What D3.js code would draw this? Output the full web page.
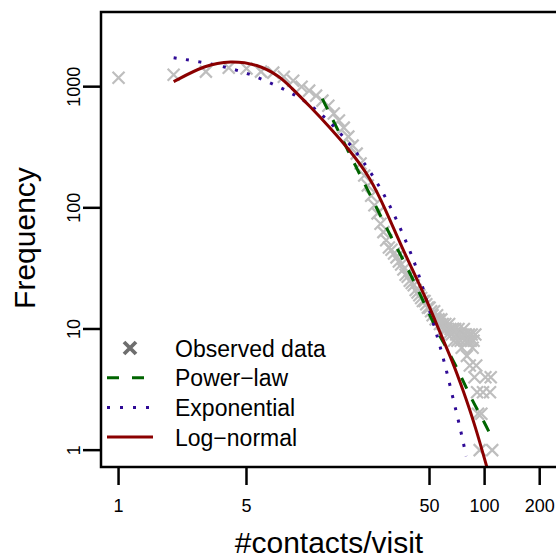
<!DOCTYPE html>
<html>
<head>
<meta charset="utf-8">
<script src="https://cdn.jsdelivr.net/npm/d3@7"></script>
<style>
  body { margin: 0; background: #fff; }
  svg { display: block; font-family: "Liberation Sans", Arial, sans-serif; }
</style>
</head>
<body>
<div id="chart"></div>
<script>
// observed frequencies (#contacts/visit -> count)
const obsX = [1, 2, 3, 4, 5, 6, 7, 8, 9, 10, 11, 12, 13, 14, 15, 16, 17, 18, 19, 20,
  21, 22, 23, 24, 25, 26, 27, 28, 29, 30, 31, 32, 33, 34, 35, 36, 37, 38, 39, 40,
  41, 42, 43, 44, 45, 46, 47, 48, 49, 50, 51, 52, 53, 54, 55, 56, 57, 58, 59, 60,
  61, 62, 63, 64, 65, 66, 67, 68, 69, 70, 71, 72, 73, 74, 75, 76, 77, 78, 79, 80,
  81, 82, 83, 84, 85, 86, 87, 88, 89, 90, 91, 92, 94, 96, 98, 101, 107, 108, 110];
const obsY = [1186, 1256, 1331, 1435, 1410, 1331, 1306, 1209, 1119, 1000, 927, 843, 767, 697, 600, 525, 459, 387, 326, 280,
  232, 185, 153, 126, 105, 90, 74, 63, 54, 47, 45, 42, 39, 36, 34, 31, 28, 27, 25, 24,
  23, 21, 20, 19, 18, 17, 17, 16, 15, 15, 14, 13, 14, 12, 13, 12, 11, 12, 11, 10,
  11, 10, 9, 11, 10, 9, 10, 8, 10, 9, 8, 10, 9, 8, 7, 9, 10, 8, 9, 6,
  8, 9, 5, 8, 9, 7, 8, 4, 9, 5, 3, 2, 1, 2, 3, 4, 3, 4, 1];

// fitted curves
const powerX = [12.97, 16.06, 19.9, 24.3, 30.1, 37.3, 46.1, 55.7, 63.1, 75.3, 85.3, 100.5, 111];
const powerY = [796, 418, 215, 119, 61.4, 33.5, 17.2, 9.2, 6.67, 3.92, 2.58, 1.67, 1.21];

const expX = [2.0, 2.77, 3.79, 5.18, 6.92, 9.24, 12.2, 17.1, 23.1, 29.4, 35.9, 43.3, 51.7, 59.3, 66.4, 74.3, 79.3];
const expY = [1734, 1607, 1462, 1279, 1059, 859, 646, 387, 215, 117, 60.3, 30.4, 12.0, 5.96, 2.89, 1.43, 0.89];

const lognX = [2.0, 2.98, 4.08, 5.73, 7.65, 8.67, 11.15, 14.3, 18.4, 23.7, 28.6, 35.9, 48.5, 57.8, 66.4, 76.3, 88.6, 103];
const lognY = [1100, 1510, 1640, 1540, 1209, 1000, 684, 459, 297, 178, 98.8, 44.5, 17.2, 8.87, 5.52, 3.12, 1.61, 0.72];

const xTicks = [1, 5, 50, 100, 200];
const yTicks = [1, 10, 100, 1000];

const legendLabels = ["Observed data", "Power\u2212law", "Exponential", "Log\u2212normal"];

const width = 556;
const height = 559;
const plot = { left: 101, right: 575, top: 12, bottom: 467 };

// R-style 4% padding on the log ranges
const padRange = (lo, hi) => {
  const a = Math.log10(lo), b = Math.log10(hi), p = (b - a) * 0.04;
  return [Math.pow(10, a - p), Math.pow(10, b + p)];
};

const x = d3.scaleLog().domain(padRange(1, 250)).range([plot.left, plot.right]);
const y = d3.scaleLog().domain(padRange(1, 3000)).range([plot.bottom, plot.top]);

const svg = d3.select("#chart")
  .append("svg")
  .attr("width", width)
  .attr("height", height);

svg.append("defs").append("clipPath")
  .attr("id", "clip")
  .append("rect")
  .attr("x", plot.left)
  .attr("y", plot.top)
  .attr("width", plot.right - plot.left)
  .attr("height", plot.bottom - plot.top);

const area = svg.append("g").attr("clip-path", "url(#clip)");

// observed crosses
const cs = 6;
const crossPath = (cx, cy, s) => `M${cx - s},${cy - s}L${cx + s},${cy + s}M${cx - s},${cy + s}L${cx + s},${cy - s}`;

area.selectAll("path.obs")
  .data(obsX)
  .enter()
  .append("path")
  .attr("class", "obs")
  .attr("d", (d, i) => crossPath(x(d), y(obsY[i]), cs))
  .attr("stroke", "#bebebe")
  .attr("stroke-width", 2.2)
  .attr("fill", "none");

const line = d3.line()
  .x(d => x(d[0]))
  .y(d => y(d[1]))
  .curve(d3.curveBasis);

const series = [
  { xs: powerX, ys: powerY, color: "#006400", dash: "12 12", legendDash: "12 13" },
  { xs: expX, ys: expY, color: "#2f0a96", dash: "3 9.5", legendDash: "3 10" },
  { xs: lognX, ys: lognY, color: "#8b0000", dash: null, legendDash: null }
];

series.forEach(s => {
  area.append("path")
    .datum(s.xs.map((v, i) => [v, s.ys[i]]))
    .attr("d", line)
    .attr("fill", "none")
    .attr("stroke", s.color)
    .attr("stroke-width", 3)
    .attr("stroke-dasharray", s.dash);
});

// box
svg.append("rect")
  .attr("x", plot.left)
  .attr("y", plot.top)
  .attr("width", plot.right - plot.left)
  .attr("height", plot.bottom - plot.top)
  .attr("fill", "none")
  .attr("stroke", "#000")
  .attr("stroke-width", 2.5);

// x axis
const xAxis = svg.append("g");
xAxis.selectAll("line")
  .data(xTicks)
  .enter()
  .append("line")
  .attr("x1", d => x(d))
  .attr("x2", d => x(d))
  .attr("y1", plot.bottom)
  .attr("y2", plot.bottom + 18)
  .attr("stroke", "#000")
  .attr("stroke-width", 2.5);
xAxis.selectAll("text")
  .data(xTicks)
  .enter()
  .append("text")
  .attr("x", d => x(d))
  .attr("y", 512)
  .attr("text-anchor", "middle")
  .attr("font-size", 18)
  .text(d => d);

// y axis
const yAxis = svg.append("g");
yAxis.selectAll("line")
  .data(yTicks)
  .enter()
  .append("line")
  .attr("x1", plot.left - 18)
  .attr("x2", plot.left)
  .attr("y1", d => y(d))
  .attr("y2", d => y(d))
  .attr("stroke", "#000")
  .attr("stroke-width", 2.5);
yAxis.selectAll("text")
  .data(yTicks)
  .enter()
  .append("text")
  .attr("transform", d => `translate(80, ${y(d)}) rotate(-90)`)
  .attr("text-anchor", "middle")
  .attr("font-size", 18)
  .text(d => d);

// axis titles
svg.append("text")
  .attr("x", 329)
  .attr("y", 553)
  .attr("text-anchor", "middle")
  .attr("font-size", 30)
  .text("#contacts/visit");

svg.append("text")
  .attr("transform", "translate(35, 238) rotate(-90)")
  .attr("text-anchor", "middle")
  .attr("font-size", 30)
  .text("Frequency");

// legend
const legend = svg.append("g").attr("transform", "translate(107, 348)");
const rowH = 29.7;

legend.append("path")
  .attr("d", crossPath(23, 0, 6))
  .attr("stroke", "#6e6e6e")
  .attr("stroke-width", 3.8)
  .attr("fill", "none");

series.forEach((s, i) => {
  legend.append("line")
    .attr("x1", 0)
    .attr("x2", 46)
    .attr("y1", (i + 1) * rowH)
    .attr("y2", (i + 1) * rowH)
    .attr("stroke", s.color)
    .attr("stroke-width", 3)
    .attr("stroke-dasharray", s.legendDash);
});

legend.selectAll("text")
  .data(legendLabels)
  .enter()
  .append("text")
  .attr("x", 68)
  .attr("y", (d, i) => i * rowH + 8.5)
  .attr("font-size", 23)
  .text(d => d);
</script>
</body>
</html>
